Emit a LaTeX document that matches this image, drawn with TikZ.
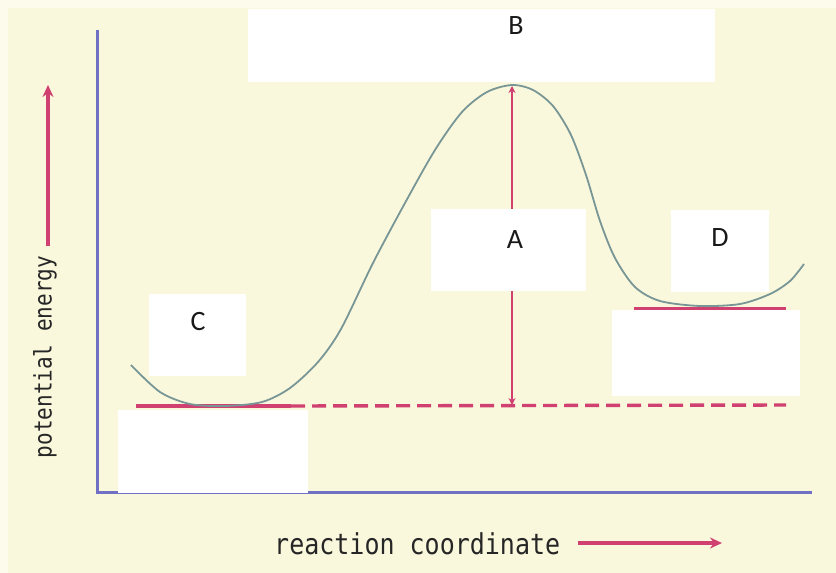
\documentclass[tikz,border=0pt]{standalone}
\usepackage{fontspec}
\newfontfamily\labfont{Carlito}
\newfontfamily\axfont{DejaVu Sans Mono}
\usetikzlibrary{arrows.meta}
\definecolor{bgcream}{RGB}{250,248,220}
\definecolor{bgedge}{RGB}{253,252,236}
\definecolor{axisblue}{RGB}{112,112,196}
\definecolor{crimson}{RGB}{208,64,112}
\definecolor{curvegray}{RGB}{120,150,150}
\tikzset{
  whitebox/.style={fill=white, draw=none, inner sep=0pt},
  letter/.style={font=\labfont\fontsize{28}{32}\selectfont, text=black!90, inner sep=0pt},
  axistext/.style={font=\axfont\fontsize{25}{28}\selectfont, text=black!85, inner sep=0pt},
  ytext/.style={font=\axfont\fontsize{21}{24}\selectfont, text=black!85, inner sep=0pt},
  axisline/.style={draw=axisblue, line width=3pt},
  redline/.style={draw=crimson, line width=3.4pt},
  reddash/.style={draw=crimson, line width=3.4pt, dash pattern=on 14pt off 7pt},
  redarrow/.style={draw=crimson, line width=3.8pt, -{Stealth[length=12pt,width=11pt]}},
  energyline/.style={draw=crimson, line width=2.6pt, {Stealth[length=7pt,width=7pt]}-{Stealth[length=7pt,width=7pt]}},
  curve/.style={draw=curvegray, line width=1.8pt}
}
\begin{document}
\begin{tikzpicture}[x=1pt,y=-1pt]
\useasboundingbox (0,0) rectangle (836,573);
\fill[bgedge] (0,0) rectangle (836,573);
\fill[bgcream] (8,8) rectangle (836,573);

% axes
\coordinate (yaxtop) at (97,30);
\coordinate (origin) at (97,492);
\coordinate (xaxend) at (812,492);
\draw[axisline] (yaxtop) -- (origin) -- (xaxend);

% axis labels
\node[ytext, rotate=90] (ylab) at (45,357) {\scalebox{1}[1.15]{potential energy}};
\coordinate (yarrs) at (48,246);
\coordinate (yarre) at (48,85);
\draw[redarrow] (yarrs) -- (yarre);
\node[axistext, anchor=west] (xlab) at (274,544) {\scalebox{1}[1.15]{reaction coordinate}};
\coordinate (xarrs) at (578,543);
\coordinate (xarre) at (722,543);
\draw[redarrow] (xarrs) -- (xarre);

% energy levels
\coordinate (lowL) at (136,406);
\coordinate (lowM) at (291,406);
\coordinate (lowR) at (786,405);
\draw[redline] (lowL) -- (lowM);
\draw[reddash] (lowM) -- (lowR);
\coordinate (hiL) at (634,309);
\coordinate (hiR) at (786,309);
\draw[redline] (hiL) -- (hiR);

% activation energy arrow
\coordinate (peak) at (512,86);
\coordinate (base) at (512,405);
\draw[energyline] (peak) -- (base);

% reaction curve
\draw[curve] plot[smooth, tension=0.5] coordinates {
 (131,365) (160,392) (190,404) (225,406) (262,402) (290,388) (318,362)
 (341,329) (373,263) (405,203) (435,150) (462,112) (487,92) (512,85)
 (533,90) (553,106) (571,135) (586,175) (600,221) (615,258) (635,287)
 (660,301) (700,306) (740,304) (770,294) (790,281) (804,264)};

% white label boxes
\fill[whitebox] (248,9) rectangle (715,82);
\node[letter] (B) at (516,26) {B};
\fill[whitebox] (431,209) rectangle (586,291);
\node[letter] (A) at (515,240) {A};
\fill[whitebox] (671,210) rectangle (769,292);
\node[letter] (D) at (720,238) {D};
\fill[whitebox] (612,310) rectangle (800,396);
\fill[whitebox] (149,294) rectangle (246,376);
\node[letter] (C) at (198,322) {C};
\fill[whitebox] (118,410) rectangle (308,493);
\end{tikzpicture}
\end{document}
